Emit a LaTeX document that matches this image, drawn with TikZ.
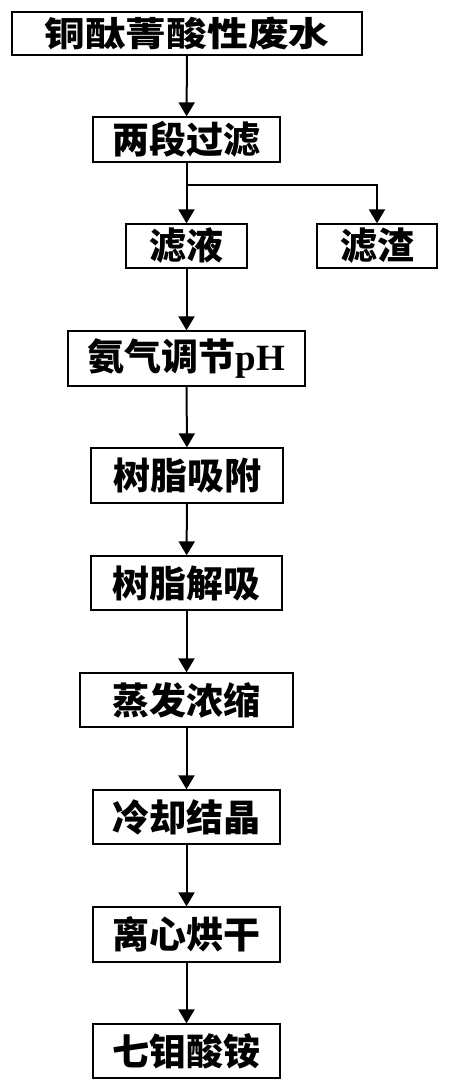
\documentclass[tikz,border=0pt]{standalone}
\usepackage{fontspec}
\usepackage{tikz}
\usetikzlibrary{positioning,arrows.meta}
\newfontfamily\cjk{Noto Sans CJK SC}
\newfontfamily\latn{Liberation Serif}
\tikzset{
  stepbox/.style={draw, line width=1.3pt, inner sep=0pt, minimum height=54pt,
    font=\cjk\bfseries\fontsize{37}{37}\selectfont},
  flow/.style={line width=2pt, -{Triangle[width=16pt,length=14pt]}}
}

\begin{document}
\begin{tikzpicture}[x=1pt, y=-1pt]
\useasboundingbox (0,0) rectangle (450,1091);

% --- feed and filtration ---
\node[stepbox, minimum width=350pt, minimum height=43pt] (waste) at (187,33.5)
     {\scalebox{1.1}[0.92]{铜酞菁酸性废水}};
\node[stepbox, minimum width=187pt, minimum height=45pt] (filt) at (186.5,139.5) {两段过滤};
\node[stepbox, minimum width=121pt, minimum height=44pt] (liq) at (186.5,246) {滤液};
\node[stepbox, minimum width=120pt, minimum height=44pt] (res) at (377,246) {滤渣};
\coordinate (split) at (186.5,185);

% --- recovery chain ---
\node[stepbox, minimum width=237pt, minimum height=55pt] (ph) at (186.5,358.5)
     {氨气调节{\latn\bfseries pH}};
\node[stepbox, minimum width=192pt, minimum height=55pt] (ads) at (187,475.5) {树脂吸附};
\node[stepbox, minimum width=191pt] (des) at (186.5,583) {树脂解吸};
\node[stepbox, minimum width=213pt] (evap) at (186.5,700) {蒸发浓缩};
\node[stepbox, minimum width=187pt] (cool) at (186.5,817) {冷却结晶};
\node[stepbox, minimum width=187pt, minimum height=55pt] (cent) at (186.5,934.5) {离心烘干};
\node[stepbox, minimum width=187pt] (prod) at (186.5,1051) {七钼酸铵};

% --- connectors ---
\draw[flow] (waste) -- (filt);
\draw[line width=2pt] (filt) -- (split);
\draw[flow] (split) -- (liq);
\draw[flow] (split) -| (res);
\draw[flow] (liq) -- (ph);
\draw[flow] (ph) -- (ads);
\draw[flow] (ads) -- (des);
\draw[flow] (des) -- (evap);
\draw[flow] (evap) -- (cool);
\draw[flow] (cool) -- (cent);
\draw[flow] (cent) -- (prod);

\end{tikzpicture}
\end{document}
